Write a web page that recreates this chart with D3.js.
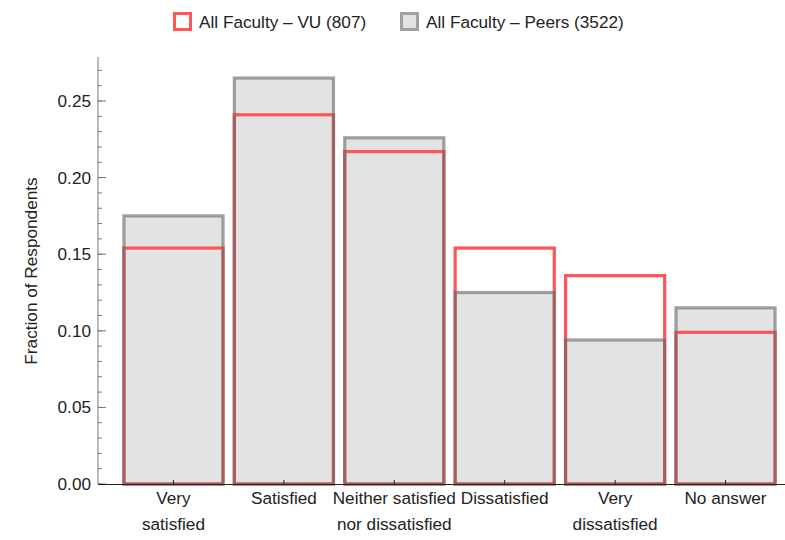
<!DOCTYPE html>
<html><head><meta charset="utf-8">
<script src="https://cdn.jsdelivr.net/npm/d3@7"></script>
<style>
body{margin:0;background:#fff;}
text{font-family:"Liberation Sans",Arial,sans-serif;fill:#222;}
</style></head>
<body>
<svg id="chart" width="785" height="540"></svg>
<script>
const categories = [["Very","satisfied"],["Satisfied"],["Neither satisfied","nor dissatisfied"],["Dissatisfied"],["Very","dissatisfied"],["No answer"]];
const vuValues = [0.154, 0.241, 0.217, 0.154, 0.136, 0.099];
const peerValues = [0.175, 0.265, 0.226, 0.125, 0.094, 0.115];
const seriesNames = ["All Faculty \u2013 VU (807)", "All Faculty \u2013 Peers (3522)"];
const yTicks = [0, 0.05, 0.10, 0.15, 0.20, 0.25];

const svg = d3.select("#chart");
const fs = 17.2;
const x = d3.scaleBand().domain(d3.range(categories.length)).range([118, 781]).paddingInner(0.075).paddingOuter(0.04);
const y = d3.scaleLinear().domain([0, 0.25]).range([484, 101]);
const yTop = y.invert(57);

// gray fills
svg.append("g").selectAll("rect").data(peerValues).join("rect")
  .attr("x", (d,i)=>x(i)+1.5).attr("width", x.bandwidth()-3)
  .attr("y", d=>y(d)).attr("height", d=>y(0)-y(d))
  .attr("fill", "#e3e3e3");
// red outlines
svg.append("g").selectAll("rect").data(vuValues).join("rect")
  .attr("x", (d,i)=>x(i)+1.5).attr("width", x.bandwidth()-3)
  .attr("y", d=>y(d)).attr("height", d=>y(0)-y(d))
  .attr("fill", "none").attr("stroke", "#ff5555").attr("stroke-width", 3.2);
// gray outlines
svg.append("g").selectAll("rect").data(peerValues).join("rect")
  .attr("x", (d,i)=>x(i)+1.5).attr("width", x.bandwidth()-3)
  .attr("y", d=>y(d)).attr("height", d=>y(0)-y(d))
  .attr("fill", "none").attr("stroke", "rgb(105,105,105)").attr("stroke-opacity", 0.62).attr("stroke-width", 3.2);

// y axis
const yAxisG = svg.append("g").attr("transform", "translate(98,0)");
yAxisG.append("line").attr("x1",0).attr("x2",0).attr("y1",y(0)).attr("y2",y(yTop)).attr("stroke","#777").attr("stroke-width",1);
const minor = d3.range(0, 0.28, 0.01).filter(v => v <= yTop);
yAxisG.selectAll("line.minor").data(minor).join("line").attr("class","minor")
  .attr("x1",0).attr("x2",4).attr("y1",d=>y(d)).attr("y2",d=>y(d)).attr("stroke","#777");
yAxisG.selectAll("line.major").data(yTicks).join("line").attr("class","major")
  .attr("x1",0).attr("x2",8).attr("y1",d=>y(d)).attr("y2",d=>y(d)).attr("stroke","#777");
yAxisG.selectAll("text").data(yTicks).join("text")
  .attr("x",-7).attr("y",d=>y(d)).attr("dy","0.35em").attr("text-anchor","end")
  .attr("font-size",fs).text(d=>d3.format(".2f")(d));

// x axis
svg.append("line").attr("x1",98).attr("x2",785).attr("y1",y(0)+0.5).attr("y2",y(0)+0.5).attr("stroke","#222");
const xg = svg.append("g");
xg.selectAll("line").data(categories).join("line")
  .attr("x1",(d,i)=>x(i)+x.bandwidth()/2).attr("x2",(d,i)=>x(i)+x.bandwidth()/2)
  .attr("y1",y(0)).attr("y2",y(0)-4).attr("stroke","#222");
xg.selectAll("text").data(categories).join("text")
  .attr("x",(d,i)=>x(i)+x.bandwidth()/2).attr("y",504).attr("text-anchor","middle").attr("font-size",fs)
  .each(function(d){
    const t = d3.select(this);
    d.forEach((line,j)=>t.append("tspan").attr("x",t.attr("x")).attr("y",504+26*j).text(line));
  });

// y label
svg.append("text").attr("transform","translate(37,271) rotate(-90)").attr("text-anchor","middle")
  .attr("font-size",fs).text("Fraction of Respondents");

// legend
const leg = svg.append("g");
leg.append("rect").attr("x",174.5).attr("y",13.5).attr("width",16).attr("height",16)
  .attr("fill","#fff").attr("stroke","#ff5555").attr("stroke-width",3);
leg.append("text").attr("x",199).attr("y",28).attr("font-size",fs).text(seriesNames[0]);
leg.append("rect").attr("x",401.5).attr("y",13.5).attr("width",16).attr("height",16)
  .attr("fill","#e3e3e3").attr("stroke","#a0a0a0").attr("stroke-width",3);
leg.append("text").attr("x",426).attr("y",28).attr("font-size",fs).text(seriesNames[1]);
</script>
</body></html>
